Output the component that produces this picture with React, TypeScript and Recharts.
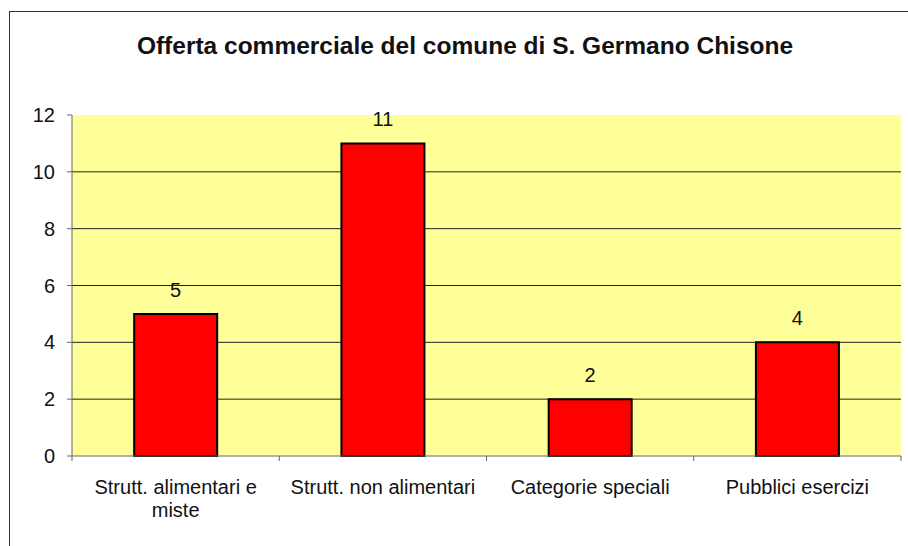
import { BarChart, Bar, XAxis, YAxis, CartesianGrid, LabelList } from 'recharts'

const categories = ['Strutt. alimentari e\nmiste', 'Strutt. non alimentari', 'Categorie speciali', 'Pubblici esercizi']
const values = [5, 11, 2, 4]
const yTicks = [0, 2, 4, 6, 8, 10, 12]
const gridValues = [2, 4, 6, 8, 10]
// category boundaries (tick marks) and centres (labels) on a 0..4 scale
const axisTicks = [0, 0.5, 1, 1.5, 2, 2.5, 3, 3.5, 4]

const FONT = '"Liberation Sans", Arial, sans-serif'

const data = categories.map((name, i) => ({ name, slot: i + 0.5, value: values[i] }))

function AxisTick(props: any) {
    const { x, y, payload } = props
    const v = payload.value
    if (Number.isInteger(v)) {
        return <line x1={x} x2={x} y1={y} y2={y + 5} stroke="#666" />
    }
    const lines = categories[Math.floor(v)].split('\n')
    return (
        <text x={x} y={y + 24} textAnchor="middle" fontSize={20} fill="#111">
            {lines.map((line, i) => (
                <tspan key={i} x={x} dy={i === 0 ? '0.71em' : 23}>
                    {line}
                </tspan>
            ))}
        </text>
    )
}

export default function App() {
    return (
        <div
            style={{
                position: 'fixed',
                left: 0,
                top: 0,
                width: 908,
                height: 546,
                overflow: 'hidden',
                background: '#fff',
                fontFamily: FONT
            }}
        >
            <div
                style={{
                    position: 'absolute',
                    left: 9,
                    top: 11,
                    width: 1000,
                    height: 1000,
                    border: '1.5px solid #333'
                }}
            />
            <div
                style={{
                    position: 'absolute',
                    left: 9,
                    top: 32,
                    width: 912,
                    textAlign: 'center',
                    fontSize: 24.5,
                    fontWeight: 'bold',
                    color: '#111',
                    lineHeight: '28px'
                }}
            >
                Offerta commerciale del comune di S. Germano Chisone
            </div>
            <div style={{ position: 'absolute', left: 0, top: 0 }}>
                <BarChart
                    width={908}
                    height={546}
                    data={data}
                    margin={{ top: 115, right: 7, bottom: 0, left: 0 }}
                    barCategoryGap="30%"
                >
                    <CartesianGrid
                        fill="#FFFF99"
                        stroke="#222"
                        vertical={false}
                        horizontalValues={gridValues}
                    />
                    <XAxis xAxisId="cat" dataKey="name" hide />
                    <XAxis
                        dataKey="slot"
                        type="number"
                        domain={[0, 4]}
                        ticks={axisTicks}
                        allowDataOverflow
                        interval={0}
                        height={90}
                        tickLine={false}
                        tickSize={0}
                        tickMargin={0}
                        stroke="#666"
                        tick={<AxisTick />}
                    />
                    <YAxis
                        width={72}
                        domain={[0, 12]}
                        ticks={yTicks}
                        tickSize={5}
                        tickMargin={12}
                        stroke="#666"
                        tick={{ fill: '#111', fontSize: 20 }}
                    />
                    <Bar xAxisId="cat" dataKey="value" fill="#FF0000" stroke="#000" strokeWidth={2} isAnimationActive={false}>
                        <LabelList dataKey="value" position="top" offset={17} fill="#111" fontSize={20} />
                    </Bar>
                </BarChart>
            </div>
        </div>
    )
}
